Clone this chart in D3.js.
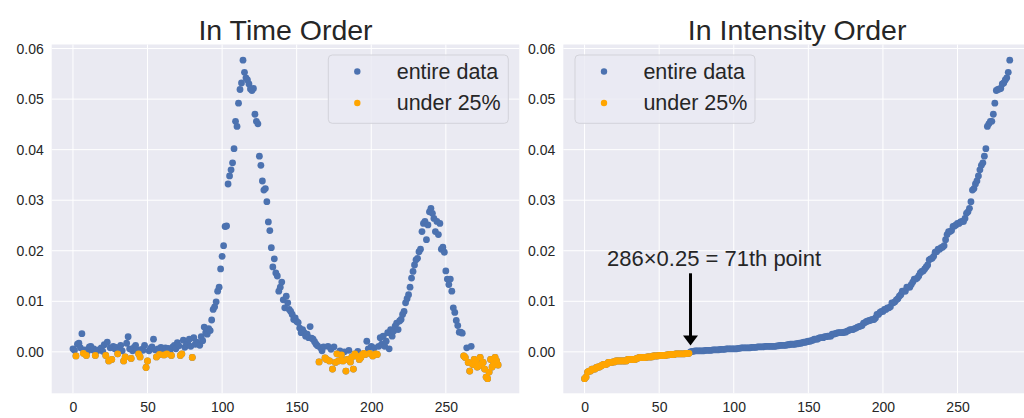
<!DOCTYPE html>
<html><head><meta charset="utf-8">
<script src="https://cdn.jsdelivr.net/npm/d3@7"></script>
<style>
body{margin:0;background:#fff}
svg{display:block;font-family:"Liberation Sans",Arial,Helvetica,sans-serif}
</style>
</head><body>
<svg id="chart" width="1024" height="418"></svg>
<script>
// ---- data ----
const values = [
 0.0006, 0.0003,-0.0008, 0.0015, 0.0017, 0.0008, 0.0036,-0.0003, 0.0004,-0.0007,
 0.0002, 0.0010, 0.0011, 0.0004, 0.0006,-0.0007, 0.0002, 0.0003, 0.0005, 0.0008,
 0.0001, 0.0014,-0.0007, 0.0019,-0.0018, 0.0008,-0.0015, 0.0011, 0.0006, 0.0009,
-0.0004, 0.0004, 0.0013, 0.0002,-0.0018,-0.0010, 0.0017, 0.0030, 0.0006,-0.0013,
 0.0002, 0.0009, 0.0013, 0.0004,-0.0004,-0.0010, 0.0005, 0.0003, 0.0013,-0.0031,
-0.0018, 0.0002, 0.0007, 0.0010, 0.0025, 0.0004,-0.0010, 0.0006,-0.0005, 0.0009,
 0.0005,-0.0006, 0.0008,-0.0004, 0.0007, 0.0003,-0.0007, 0.0010, 0.0013, 0.0006,
 0.0018, 0.0012,-0.0007,-0.0004, 0.0023, 0.0009, 0.0014, 0.0016, 0.0025, 0.0011,
-0.0011, 0.0028, 0.0015, 0.0019, 0.0016, 0.0013, 0.0030, 0.0022, 0.0049, 0.0038,
 0.0035, 0.0046, 0.0042, 0.0063, 0.0084, 0.0089, 0.0099, 0.0120, 0.0128, 0.0164,
 0.0189, 0.0210, 0.0248, 0.0249, 0.0332, 0.0348, 0.0360, 0.0374, 0.0402, 0.0456,
 0.0446, 0.0492, 0.0519, 0.0532, 0.0577, 0.0553, 0.0542, 0.0538, 0.0530, 0.0520,
 0.0517, 0.0521, 0.0470, 0.0456, 0.0451, 0.0387, 0.0369, 0.0338, 0.0320, 0.0323,
 0.0297, 0.0257, 0.0240, 0.0206, 0.0168, 0.0184, 0.0156, 0.0150, 0.0120, 0.0128,
 0.0138, 0.0103, 0.0087, 0.0110, 0.0097, 0.0084, 0.0080, 0.0074, 0.0064, 0.0067,
 0.0060, 0.0058, 0.0047, 0.0038, 0.0044, 0.0038, 0.0031, 0.0035, 0.0028, 0.0050,
 0.0027, 0.0025, 0.0020, 0.0015, 0.0012,-0.0020, 0.0008, 0.0002, 0.0010,-0.0012,
-0.0015, 0.0011,-0.0018, 0.0005,-0.0034, 0.0010,-0.0021,-0.0004,-0.0018, 0.0002,
-0.0006,-0.0018, 0.0000,-0.0038,-0.0015, 0.0003,-0.0020,-0.0010,-0.0034,-0.0004,
-0.0008, 0.0001,-0.0015,-0.0011,-0.0005,-0.0003,-0.0005, 0.0021, 0.0006,-0.0003,
 0.0011,-0.0008, 0.0008,-0.0004,-0.0005, 0.0011, 0.0028, 0.0015, 0.0031, 0.0011,
 0.0021, 0.0038, 0.0006, 0.0044, 0.0031, 0.0041, 0.0051, 0.0057, 0.0044, 0.0061,
 0.0064, 0.0074, 0.0080, 0.0097, 0.0105, 0.0113, 0.0128, 0.0146, 0.0159, 0.0172,
 0.0182, 0.0185, 0.0198, 0.0203, 0.0238, 0.0254, 0.0258, 0.0222, 0.0251, 0.0277,
 0.0284, 0.0274, 0.0264, 0.0238, 0.0258, 0.0232, 0.0254, 0.0203, 0.0207, 0.0197,
 0.0160, 0.0144, 0.0133, 0.0144, 0.0120, 0.0087, 0.0078, 0.0062, 0.0052, 0.0039,
 0.0039, 0.0037,-0.0008,-0.0011, 0.0008,-0.0021,-0.0038, 0.0011,-0.0025,-0.0015,
-0.0018,-0.0030,-0.0028,-0.0011,-0.0024,-0.0021,-0.0034,-0.0050,-0.0053,-0.0040,
-0.0015,-0.0030,-0.0025,-0.0011,-0.0018,-0.0026
];
const xTicks = [0, 50, 100, 150, 200, 250];
const yTicks = [0.00, 0.01, 0.02, 0.03, 0.04, 0.05, 0.06];
const titles = ["In Time Order", "In Intensity Order"];
const legendLabels = ["entire data", "under 25%"];
const quantileCount = 71;            // 286 x 0.25
const annotationText = "286\u00d70.25 = 71th point";

// ---- styling / layout ----
const BLUE = "#4c72b0", ORANGE = "#ffa500", BG = "#eaeaf2", TXT = "#262626";
const svg = d3.select("#chart");
const N = values.length;

// rank-based split into lowest 25%
const order = d3.range(N).sort((a, b) => values[a] - values[b] || a - b);
const isLow = new Array(N).fill(false);
order.slice(0, quantileCount).forEach(i => isLow[i] = true);
const sorted = order.map(i => values[i]);

const timeData = values.map((v, i) => ({x: i, y: v, low: isLow[i]}));
const sortData = sorted.map((v, i) => ({x: i, y: v, low: i < quantileCount}));

const panels = [
  {x0: 51.7, x1: 519.3, data: timeData, title: titles[0], legendX: 328.3},
  {x0: 563.3, x1: 1031, data: sortData, title: titles[1], legendX: 575}
];
const yTop = 44.5, yBot = 393.3;
const y = d3.scaleLinear().domain([-0.0082, 0.0608]).range([yBot, yTop]);

panels.forEach((p, pi) => {
  const x = d3.scaleLinear().domain([-14.25, 299.25]).range([p.x0, p.x1]);
  p.x = x;
  const g = svg.append("g");
  g.append("rect").attr("x", p.x0).attr("y", yTop)
    .attr("width", p.x1 - p.x0).attr("height", yBot - yTop).attr("fill", BG);

  // grid
  g.selectAll(".gx").data(xTicks).enter().append("line")
    .attr("x1", d => x(d)).attr("x2", d => x(d)).attr("y1", yTop).attr("y2", yBot)
    .attr("stroke", "#fff").attr("stroke-width", 1);
  g.selectAll(".gy").data(yTicks).enter().append("line")
    .attr("x1", p.x0).attr("x2", p.x1).attr("y1", d => y(d)).attr("y2", d => y(d))
    .attr("stroke", "#fff").attr("stroke-width", 1);

  // axes (no spines, no tick marks)
  const xa = g.append("g").attr("transform", `translate(0,${yBot})`)
    .call(d3.axisBottom(x).tickValues(xTicks).tickSize(0).tickPadding(9).tickFormat(d3.format("d")));
  const ya = g.append("g").attr("transform", `translate(${p.x0},0)`)
    .call(d3.axisLeft(y).tickValues(yTicks).tickSize(0).tickPadding(8).tickFormat(d3.format(".2f")));
  [xa, ya].forEach(a => {
    a.select(".domain").remove();
    a.selectAll("text").attr("font-size", 14).attr("fill", TXT)
      .attr("font-family", '"Liberation Sans",Arial,sans-serif');
  });

  // points: all data in blue, the lowest 25% redrawn in orange
  g.selectAll(".pb").data(p.data).enter().append("circle")
    .attr("cx", d => x(d.x)).attr("cy", d => y(d.y)).attr("r", 3.4).attr("fill", BLUE);
  g.selectAll(".po").data(p.data.filter(d => d.low)).enter().append("circle")
    .attr("cx", d => x(d.x)).attr("cy", d => y(d.y)).attr("r", 3.4).attr("fill", ORANGE);

  // title
  svg.append("text").attr("x", (p.x0 + p.x1) / 2).attr("y", 40)
    .attr("text-anchor", "middle").attr("font-size", 28.5).attr("fill", TXT).text(p.title);

  // legend
  const lg = svg.append("g");
  lg.append("rect").attr("x", p.legendX).attr("y", 55).attr("width", 180).attr("height", 68.3)
    .attr("rx", 4).attr("fill", BG).attr("fill-opacity", 0.8)
    .attr("stroke", "#d3d3da").attr("stroke-width", 1);
  [BLUE, ORANGE].forEach((c, k) => {
    lg.append("circle").attr("cx", p.legendX + 29).attr("cy", 71.5 + k * 31.5).attr("r", 3.2).attr("fill", c);
    lg.append("text").attr("x", p.legendX + 68.4).attr("y", 79 + k * 31)
      .attr("font-size", 21.5).attr("fill", TXT).text(legendLabels[k]);
  });
});

// annotation on the sorted panel
const xr = panels[1].x;
const ax = xr(quantileCount);
const tipY = y(0.00126), tailY = y(0.01554);
svg.append("line").attr("x1", ax).attr("x2", ax).attr("y1", tailY).attr("y2", tipY - 9)
  .attr("stroke", "#000").attr("stroke-width", 3);
svg.append("path")
  .attr("d", `M${ax - 7.5},${tipY - 10}L${ax + 7.5},${tipY - 10}L${ax},${tipY}Z`)
  .attr("fill", "#000");
svg.append("text").attr("x", xr(86.8)).attr("y", y(0.01704))
  .attr("text-anchor", "middle").attr("font-size", 22).attr("fill", TXT).text(annotationText);
</script>
</body></html>
